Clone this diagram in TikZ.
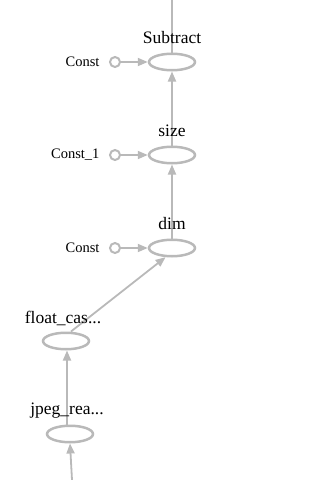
\documentclass[tikz,border=0pt]{standalone}
\usepackage{fontspec}
\setmainfont{Liberation Serif}
\usepackage{tikz}
\usetikzlibrary{arrows.meta,shapes.geometric,calc}
\definecolor{GrisNodo}{RGB}{185,185,185}

\begin{document}
\begin{tikzpicture}[x=1pt,y=-1pt,>={Triangle[length=10pt,width=8pt]},
  op/.style={ellipse,draw=GrisNodo,line width=2.5pt,minimum width=46pt,minimum height=16.5pt,inner sep=0pt},
  cte/.style={circle,draw=GrisNodo,line width=2pt,minimum size=10pt,inner sep=0pt},
  flecha/.style={->,GrisNodo,line width=1.8pt},
  etiq/.style={font=\fontsize{17.5}{17.5}\selectfont},
  etiqc/.style={font=\fontsize{14.5}{14.5}\selectfont,anchor=east}]
  \useasboundingbox (0,0) rectangle (336,480);
  % nodos
  \node[op] (sub) at (172,62) {};
  \node[op] (size) at (172,155) {};
  \node[op] (dim) at (172,248) {};
  \node[op] (fcast) at (66,341) {};
  \node[op] (jpeg) at (70,434) {};
  \node[cte] (c0) at (115,62) {};
  \node[cte] (c1) at (115,155) {};
  \node[cte] (c2) at (115,248) {};
  \coordinate (arriba) at (172,0);
  \coordinate (abajo) at (72,480);
  % aristas
  \draw[GrisNodo,line width=1.8pt] (sub.north) -- (arriba);
  \draw[flecha] (c0) -- (sub);
  \draw[flecha] (c1) -- (size);
  \draw[flecha] (c2) -- (dim);
  \draw[flecha] (size.north) -- (sub.south);
  \draw[flecha] (dim.north) -- (size.south);
  \draw[flecha] ($(fcast.north)+(5,0)$) -- (dim.-125);
  \draw[flecha] ($(jpeg.north)+(-3,0)$) -- ($(fcast.south)+(1,0)$);
  \draw[flecha] (abajo) -- (jpeg.south);
  % etiquetas
  \node[etiq] (lsub) at (172,38) {Subtract};
  \node[etiq] (lsize) at (172,131) {size};
  \node[etiq] (ldim) at (172,224) {dim};
  \node[etiq] (lfcast) at (63,318) {float\_cas...};
  \node[etiq] (ljpeg) at (67,411) {jpeg\_rea...};
  \node[etiqc] (lc0) at (103,62) {Const};
  \node[etiqc] (lc1) at (103,155) {Const\_1};
  \node[etiqc] (lc2) at (103,248) {Const};
\end{tikzpicture}
\end{document}
